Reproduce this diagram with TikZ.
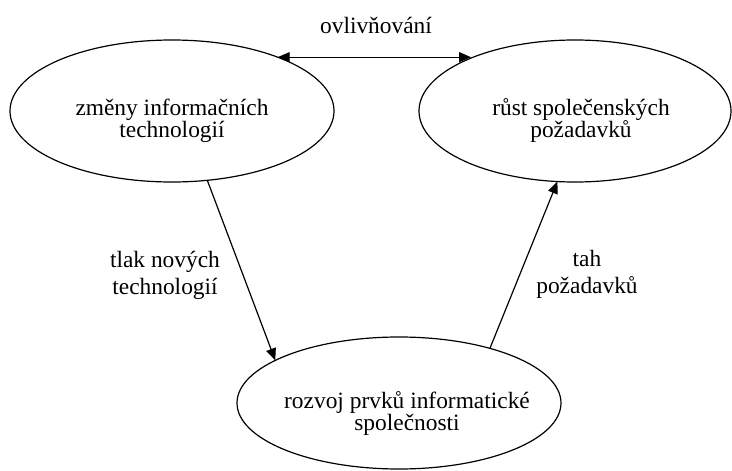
\documentclass[tikz,border=0pt]{standalone}
\usepackage{fontspec}
\setmainfont{Liberation Serif}
\usetikzlibrary{shapes.geometric,arrows.meta}
\begin{document}
\begin{tikzpicture}[x=1pt,y=-1pt,
  bubble/.style={draw=black,ellipse,line width=1.2pt,inner sep=0pt,outer sep=0pt},
  etext/.style={font=\fontsize{23.4}{22}\selectfont,align=center,inner sep=0pt},
  lbl/.style={font=\fontsize{23.4}{27}\selectfont,align=center,inner sep=0pt},
  tip/.style={Triangle[length=12pt,width=10pt]},
  flow/.style={line width=1.2pt,-{Triangle[length=12pt,width=10pt]}},
  both/.style={line width=1.2pt,{Triangle[length=12pt,width=10pt]}-{Triangle[length=12pt,width=10pt]}},
]
\useasboundingbox (0,0) rectangle (732,471);

% the three ellipses
\node[bubble,minimum width=324pt,minimum height=142pt] (zmeny) at (172,111) {};
\node[bubble,minimum width=312pt,minimum height=142pt] (rust) at (575,111) {};
\node[bubble,minimum width=324pt,minimum height=132pt] (rozvoj) at (399,403) {};

% their texts
\node[etext] (zmenytxt) at (172,121) {změny informačních\\technologií};
\node[etext] (rusttxt) at (581,121) {růst společenských\\požadavků};
\node[etext] (rozvojtxt) at (407,414) {rozvoj prvků informatické\\společnosti};

% connectors
\draw[both] (zmeny.27) -- (zmeny.27 -| rust.153);
\draw[flow] (zmeny.-63) -- (rozvoj.161);
\draw[flow] (rozvoj.31) -- (rust.-104);

% connector labels
\node[lbl,anchor=base] (ovl) at (376,33) {ovlivňování};
\node[lbl] (tlak) at (165,275) {tlak nových\\technologií};
\node[lbl] (tah) at (587,274) {tah\\požadavků};
\end{tikzpicture}
\end{document}
